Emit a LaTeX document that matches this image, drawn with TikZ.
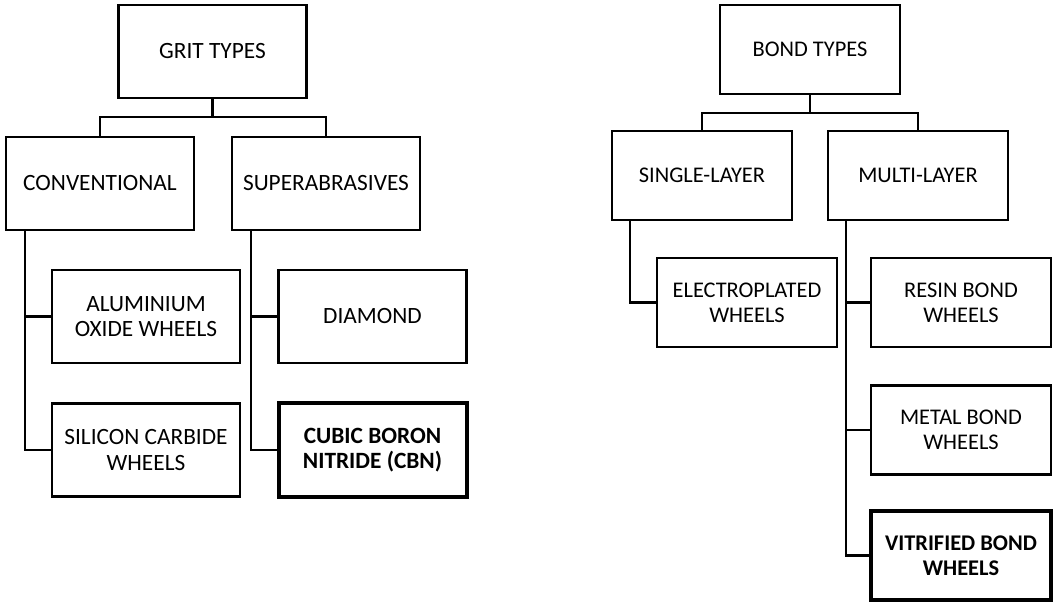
\documentclass[tikz,border=0pt]{standalone}
\usepackage{fontspec}
\setmainfont{Carlito}
\begin{document}
\begin{tikzpicture}[x=0.75pt,y=-0.75pt,
  lbox/.style={draw, line width=1.8pt, minimum width=141pt, minimum height=70pt,
    inner sep=0pt, align=center, font=\fontsize{17.5}{19.3}\selectfont},
  lboxb/.style={lbox, line width=3pt, font=\fontsize{17.5}{19.3}\selectfont\bfseries},
  rbox/.style={draw, line width=1.8pt, minimum width=135pt, minimum height=67pt,
    inner sep=0pt, align=center, font=\fontsize{16.8}{18.5}\selectfont},
  rboxb/.style={rbox, line width=3pt, font=\fontsize{16.8}{18.5}\selectfont\bfseries},
  link/.style={line width=1.8pt, line join=miter}]
\useasboundingbox (0,0) rectangle (1053,602);

% ---------- left tree ----------
\node[lbox] (grit) at (212.5,51.5) {GRIT TYPES};
\node[lbox] (conv) at (100,183.5) {CONVENTIONAL};
\node[lbox] (super) at (326,183.5) {SUPERABRASIVES};
\node[lbox] (alum) at (146,316.5) {ALUMINIUM\\OXIDE WHEELS};
\node[lbox] (sil) at (146,450) {SILICON CARBIDE\\WHEELS};
\node[lbox] (diam) at (372.5,316.5) {DIAMOND};
\node[lboxb] (cbn) at (372.5,450) {CUBIC BORON\\NITRIDE (CBN)};

\coordinate (lj) at (212.5,117);
\coordinate (cv) at (25,0);
\coordinate (sv) at (251,0);
\draw[link] (grit.south) -- (lj);
\draw[link] (conv.north) |- (lj) -| (super.north);
\draw[link] (cv |- conv.south) -- (cv |- sil.west) -- (sil.west);
\draw[link] (cv |- alum.west) -- (alum.west);
\draw[link] (sv |- super.south) -- (sv |- cbn.west) -- (cbn.west);
\draw[link] (sv |- diam.west) -- (diam.west);

% ---------- right tree ----------
\node[rbox] (bond) at (810,49.5) {BOND TYPES};
\node[rbox] (single) at (702,175.5) {SINGLE-LAYER};
\node[rbox] (multi) at (918,175.5) {MULTI-LAYER};
\node[rbox] (elec) at (747,302.5) {ELECTROPLATED\\WHEELS};
\node[rbox] (resin) at (961,302.5) {RESIN BOND\\WHEELS};
\node[rbox] (metal) at (961,430) {METAL BOND\\WHEELS};
\node[rboxb] (vit) at (961,555.5) {VITRIFIED BOND\\WHEELS};

\coordinate (rj) at (810,113);
\coordinate (slv) at (630,0);
\coordinate (mlv) at (846,0);
\draw[link] (bond.south) -- (rj);
\draw[link] (single.north) |- (rj) -| (multi.north);
\draw[link] (slv |- single.south) -- (slv |- elec.west) -- (elec.west);
\draw[link] (mlv |- multi.south) -- (mlv |- vit.west) -- (vit.west);
\draw[link] (mlv |- resin.west) -- (resin.west);
\draw[link] (mlv |- metal.west) -- (metal.west);
\end{tikzpicture}
\end{document}
